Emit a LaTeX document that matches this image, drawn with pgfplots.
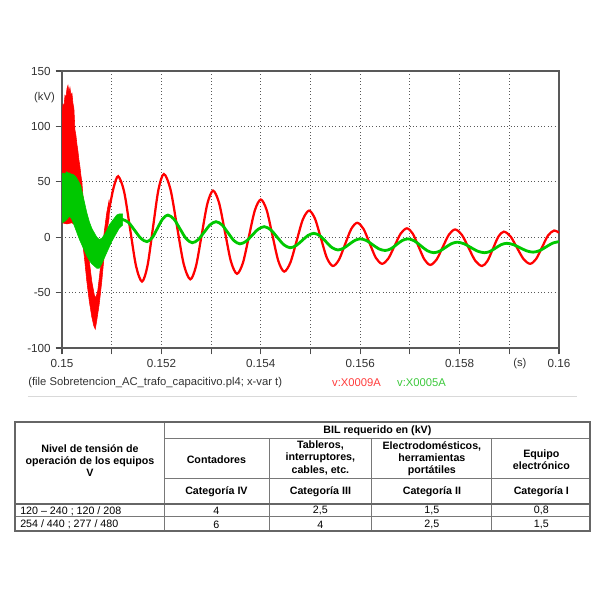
\documentclass[border=0pt]{standalone}
\usepackage{pgfplots}
\pgfplotsset{compat=1.18}
\usepackage{fontspec}
\setmainfont{Liberation Sans}
\definecolor{tickgray}{RGB}{50,50,50}
\definecolor{plotred}{RGB}{255,0,0}
\definecolor{plotgreen}{RGB}{0,200,0}
\definecolor{legred}{RGB}{255,60,60}
\definecolor{leggreen}{RGB}{60,200,60}
\definecolor{tabline}{RGB}{120,120,120}

\begin{document}
\begin{tikzpicture}
% page = 600 x 600 px of the reference, 1 px = 0.025 cm
\path[use as bounding box] (0,0) rectangle (15cm,-15cm);

\begin{axis}[
  at={(1.55cm,-8.7cm)}, anchor=south west,
  scale only axis, width=12.425cm, height=6.925cm,
  xmin=0.15, xmax=0.16, ymin=-100, ymax=150,
  xtick={0.150,0.151,0.152,0.153,0.154,0.155,0.156,0.157,0.158,0.159,0.160},
  xticklabels={0.15,,0.152,,0.154,,0.156,,0.158,,0.16},
  ytick={-100,-50,0,50,100,150},
  xtick pos=left, ytick pos=left,
  tick align=outside,
  major tick length=4.5pt,
  tick style={black!70, line width=0.8pt},
  grid=major,
  major grid style={black!65, dotted, line width=0.75pt},
  axis line style={black!65, line width=1pt},
  ticklabel style={font=\fontsize{8.3}{9}\selectfont, text=tickgray},
  /pgf/number format/assume math mode=true,
]
% v:X0009A, noisy start as a band
\addplot[draw=plotred, line width=0.4pt, fill=plotred] coordinates {
  (0.15000,112) (0.15002,120) (0.15004,118) (0.15006,128) (0.15008,126)
  (0.15010,134) (0.15012,137) (0.15014,131) (0.15016,135) (0.15018,128)
  (0.15020,130) (0.15022,121) (0.15024,116) (0.15026,97) (0.15028,92)
  (0.15030,84) (0.15032,78) (0.15034,70) (0.15036,64) (0.15038,56)
  (0.15040,50) (0.15042,38) (0.15045,22) (0.15050,0) (0.15055,-22)
  (0.15060,-40) (0.15065,-52) (0.15068,-55) (0.15072,-48) (0.15076,-33)
  (0.15080,-15) (0.15085,5) (0.15090,22) (0.15095,34)
  (0.15095,18) (0.15090,4) (0.15085,-16) (0.15080,-40) (0.15075,-60)
  (0.15070,-75) (0.15067,-83) (0.15064,-80) (0.15060,-72) (0.15055,-58)
  (0.15050,-40) (0.15045,-18) (0.15040,0) (0.15035,8) (0.15030,10)
  (0.15020,13) (0.15010,12) (0.15000,13)
};
\addplot[plotred, line width=1.6pt, smooth] coordinates {
  (0.15090,14) (0.15097,30) (0.15104,45) (0.15113,55)
  (0.15125,41.1) (0.15137,7.5) (0.15149,-26.1) (0.15161,-40)
  (0.15172,-25.8) (0.15183,8.5) (0.15194,42.8) (0.15205,57)
  (0.152183,43.1) (0.152315,9.5) (0.152448,-24.1) (0.15258,-38)
  (0.152695,-26.3) (0.15281,2) (0.152925,30.3) (0.15304,42)
  (0.15316,31) (0.15328,4.5) (0.1534,-22) (0.15352,-33)
  (0.15364,-23.2) (0.15376,0.5) (0.15388,24.2) (0.154,34)
  (0.154118,24.5) (0.154235,1.5) (0.154353,-21.5) (0.15447,-31)
  (0.154595,-22.9) (0.15472,-3.5) (0.154845,15.9) (0.15497,24)
  (0.15509,16.7) (0.15521,-1) (0.15533,-18.7) (0.15545,-26)
  (0.155573,-20.3) (0.155695,-6.5) (0.155818,7.3) (0.15594,13)
  (0.156065,7.6) (0.15619,-5.5) (0.156315,-18.6) (0.15644,-24)
  (0.156565,-19.3) (0.15669,-8) (0.156815,3.3) (0.15694,8)
  (0.157058,3.2) (0.157175,-8.5) (0.157293,-20.2) (0.15741,-25)
  (0.157535,-20.3) (0.15766,-9) (0.157785,2.3) (0.15791,7)
  (0.158045,2.2) (0.15818,-9.5) (0.158315,-21.2) (0.15845,-26)
  (0.15856,-21.5) (0.15867,-10.5) (0.15878,0.5) (0.15889,5)
  (0.159023,0.8) (0.159155,-9.5) (0.159288,-19.8) (0.15942,-24)
  (0.15954,-19.6) (0.15966,-9) (0.15978,1.6) (0.1599,6) (0.16,4)
};
% v:X0005A, noisy start as a band
\addplot[draw=plotgreen, line width=0.4pt, fill=plotgreen] coordinates {
  (0.15000,57) (0.15003,58) (0.15006,57) (0.15009,59) (0.15012,58)
  (0.15015,58) (0.15018,57) (0.15021,57) (0.15024,56) (0.15027,55)
  (0.15030,53) (0.15034,50) (0.15038,46) (0.15042,38) (0.15046,30)
  (0.15050,22) (0.15055,14) (0.15060,8) (0.15065,4) (0.15070,0)
  (0.15075,-2) (0.15080,-1) (0.15085,2) (0.15090,6) (0.15095,11)
  (0.15100,14) (0.15105,17) (0.15110,20) (0.15115,21) (0.15122,21)
  (0.15122,11) (0.15115,8) (0.15110,4) (0.15105,0) (0.15100,-4)
  (0.15095,-9) (0.15090,-14) (0.15085,-19) (0.15080,-24) (0.15075,-28)
  (0.15070,-28) (0.15065,-26) (0.15060,-24) (0.15055,-21) (0.15050,-17)
  (0.15045,-12) (0.15040,-7) (0.15035,-2) (0.15030,4) (0.15025,10)
  (0.15020,16) (0.15015,19) (0.15010,16) (0.15005,14) (0.15000,13)
};
\addplot[plotgreen, line width=2pt, smooth] coordinates {
  (0.15115,15) (0.15122,16)
  (0.151343,13.1) (0.151465,6) (0.151588,-1.1) (0.15171,-4)
  (0.151815,-0.5) (0.15192,8) (0.152025,16.5) (0.15213,20)
  (0.152253,16.3) (0.152375,7.5) (0.152498,-1.3) (0.15262,-5)
  (0.15274,-2.2) (0.15286,4.5) (0.15298,11.2) (0.1531,14)
  (0.15322,11.1) (0.15334,4) (0.15346,-3.1) (0.15358,-6)
  (0.153703,-3.7) (0.153825,1.75) (0.153948,7.2) (0.15407,9.5)
  (0.1542,6.7) (0.15433,0) (0.15446,-6.7) (0.15459,-9.5)
  (0.15471,-7.6) (0.15483,-3) (0.15495,1.6) (0.15507,3.5)
  (0.15519,1.3) (0.15531,-4) (0.15543,-9.3) (0.15555,-11.5)
  (0.155663,-10) (0.155775,-6.5) (0.155888,-3) (0.156,-1.5)
  (0.156125,-3) (0.15625,-6.75) (0.156375,-10.5) (0.1565,-12)
  (0.156615,-10.5) (0.15673,-6.75) (0.156845,-3) (0.15696,-1.5)
  (0.15709,-3.3) (0.15722,-7.75) (0.15735,-12.2) (0.15748,-14)
  (0.157598,-12.6) (0.157715,-9.25) (0.157833,-5.9) (0.15795,-4.5)
  (0.158088,-5.9) (0.158225,-9.25) (0.158363,-12.6) (0.1585,-14)
  (0.158613,-12.8) (0.158725,-9.75) (0.158838,-6.7) (0.15895,-5.5)
  (0.159083,-6.7) (0.159215,-9.5) (0.159348,-12.3) (0.15948,-13.5)
  (0.15961,-12.1) (0.15974,-8.75) (0.15987,-5.4) (0.16,-4)
};
\end{axis}

\begin{scope}[x=0.025cm, y=-0.025cm, font=\fontsize{8}{9}\selectfont]
  % axis annotations
  \node[text=tickgray] at (44.5,98) {(kV)};
  \node[text=tickgray] at (520,364) {(s)};
  \node[anchor=west, inner sep=0, text=tickgray] at (28,383)
    {(file Sobretencion\_AC\_trafo\_capacitivo.pl4; x-var t)};
  \node[anchor=west, inner sep=0, text=legred] at (332,383) {v:X0009A};
  \node[anchor=west, inner sep=0, text=leggreen] at (397,383) {v:X0005A};
  \draw[black!15, line width=0.8pt] (28,397) -- (577,397);

  % table
  \draw[tabline, line width=0.6pt]
    (164,422) -- (164,531)
    (164,439) -- (590,439)
    (269,439) -- (269,531)
    (372,439) -- (372,531)
    (492,439) -- (492,531)
    (164,479) -- (590,479)
    (15,517) -- (590,517);
  \draw[black!60, line width=1pt] (15,504) -- (590,504);
  \draw[black!60, line width=1.4pt] (15,422) rectangle (590,531);

  \begin{scope}[font=\fontsize{7.6}{8.6}\selectfont\bfseries, align=center, inner sep=0]
    \node at (90,461) {Nivel de tensión de\\operación de los equipos\\V};
    \node at (377.5,431) {BIL requerido en (kV)};
    \node at (216.5,460) {Contadores};
    \node at (320.5,458) {Tableros,\\interruptores,\\cables, etc.};
    \node at (432,458.5) {Electrodomésticos,\\herramientas\\portátiles};
    \node at (541.5,460) {Equipo\\electrónico};
    \node at (216.5,492) {Categoría IV};
    \node at (320.5,492) {Categoría III};
    \node at (432,492) {Categoría II};
    \node at (541.5,492) {Categoría I};
  \end{scope}
  \begin{scope}[font=\fontsize{7.6}{8.6}\selectfont, inner sep=0]
    \node[anchor=west] at (20,511) {120 – 240 ; 120 / 208};
    \node[anchor=west] at (20,524.5) {254 / 440 ; 277 / 480};
    \node at (216.5,511) {4};
    \node at (320.5,511) {2,5};
    \node at (432,511) {1,5};
    \node at (541.5,511) {0,8};
    \node at (216.5,524.5) {6};
    \node at (320.5,524.5) {4};
    \node at (432,524.5) {2,5};
    \node at (541.5,524.5) {1,5};
  \end{scope}
\end{scope}
\end{tikzpicture}
\end{document}
